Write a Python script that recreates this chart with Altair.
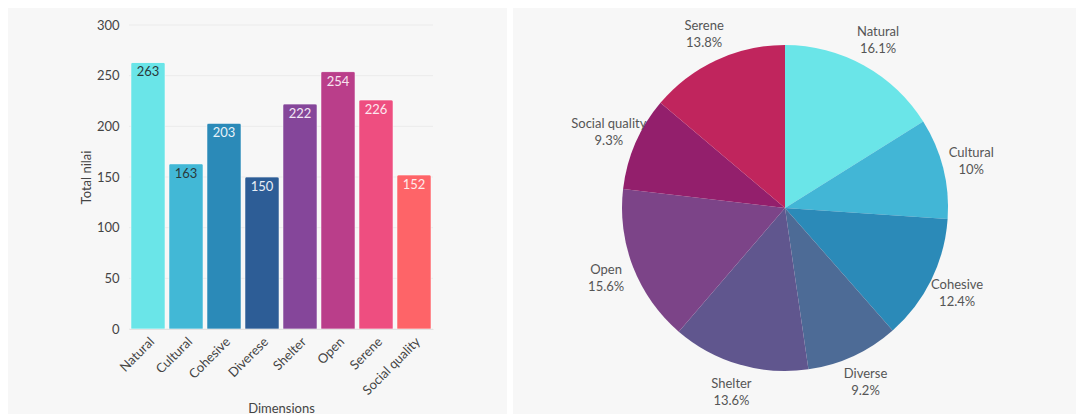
import altair as alt
import pandas as pd

# ---- data ----
categories = ["Natural", "Cultural", "Cohesive", "Diverese", "Shelter", "Open", "Serene", "Social quality"]
values = [263, 163, 203, 150, 222, 254, 226, 152]
bar_colors = ["#6ae5e8", "#42b8d6", "#2b8ab8", "#2d5d96", "#85469a", "#ba3e8a", "#ee4e80", "#fe6468"]
value_text_colors = ["#2a3a3c", "#2a3a3c", "#e8f2f8", "#e8eef6", "#f3e6f5", "#f8e4f0", "#fde8ef", "#ffeaea"]
y_ticks = [0, 50, 100, 150, 200, 250, 300]

pie_categories = ["Natural", "Cultural", "Cohesive", "Diverse", "Shelter", "Open", "Social quality", "Serene"]
pie_values = [263, 163, 203, 150, 222, 254, 152, 226]
pie_colors = ["#6ae5e8", "#42b6d6", "#2b8ab8", "#4d6b96", "#60568e", "#7c4488", "#931f6c", "#c0255d"]

FONT = "Lato"
PANEL = "#f7f7f7"

bar_df = pd.DataFrame({"Dimension": categories, "Total": values})
grid_df = pd.DataFrame({"Total": y_ticks})

total = sum(pie_values)
pie_labels = []
for c, v in zip(pie_categories, pie_values):
    p = round(v / total * 100, 1)
    pie_labels.append(f"{c}\n{p:g}%")
pie_df = pd.DataFrame({
    "Dimension": pie_categories,
    "Total": pie_values,
    "idx": list(range(len(pie_categories))),
    "label": pie_labels,
})

bg_df = pd.DataFrame({"k": [0]})

# ---- left: bar chart ----
BW, BH = 304, 304
TOP = 17
bar_bg = alt.Chart(bg_df).mark_rect(color=PANEL).encode(
    x=alt.value(-121), x2=alt.value(BW + 74), y=alt.value(-TOP), y2=alt.value(BH + 85)
)

yscale = alt.Scale(domain=[0, 300], nice=False)

grid = alt.Chart(grid_df).mark_rule(color="#ebebeb", strokeWidth=1).encode(
    y=alt.Y("Total:Q", scale=yscale)
)

xenc = alt.X("Dimension:N", sort=categories,
             scale=alt.Scale(paddingInner=0.1, paddingOuter=0.05),
             axis=alt.Axis(title="Dimensions", labelAngle=-45, ticks=False, zindex=1,
                           domainColor="#e2e2e2", labelPadding=6,
                           labelColor="#444444", labelFontSize=13, labelFont=FONT,
                           titleFont=FONT, titleFontSize=13, titleFontWeight="normal",
                           titleColor="#444444", titlePadding=5))
yenc = alt.Y("Total:Q", scale=yscale,
             axis=alt.Axis(title="Total nilai", values=y_ticks, domain=False, ticks=False,
                           grid=False, zindex=1,
                           labelPadding=10,
                           labelColor="#444444", labelFontSize=13, labelFont=FONT,
                           titleFont=FONT, titleFontSize=13, titleFontWeight="normal",
                           titleColor="#444444", titlePadding=3))

bars = alt.Chart(bar_df).mark_bar(
    cornerRadiusTopLeft=2, cornerRadiusTopRight=2,
    stroke="#ffffff", strokeOpacity=0.35, strokeWidth=1
).encode(
    x=xenc, y=yenc,
    color=alt.Color("Dimension:N", scale=alt.Scale(domain=categories, range=bar_colors), legend=None),
)

bar_text = alt.Chart(bar_df).mark_text(
    baseline="middle", dy=10, font=FONT, fontSize=13
).encode(
    x=alt.X("Dimension:N", sort=categories),
    y="Total:Q",
    text="Total:Q",
    color=alt.Color("Dimension:N", scale=alt.Scale(domain=categories, range=value_text_colors), legend=None),
)

left = alt.layer(bar_bg, grid, bars, bar_text).resolve_scale(color="independent").properties(width=BW, height=BH)

# ---- right: pie chart ----
PW, PH = 563, 389
CX, CY = 272, 183
pie_bg = alt.Chart(bg_df).mark_rect(color=PANEL).encode(
    x=alt.value(0), x2=alt.value(PW), y=alt.value(-TOP), y2=alt.value(PH)
)

arcs = alt.Chart(pie_df).mark_arc(radius=163).encode(
    theta=alt.Theta("Total:Q", stack=True),
    order=alt.Order("idx:Q"),
    color=alt.Color("Dimension:N", scale=alt.Scale(domain=pie_categories, range=pie_colors), legend=None),
    x=alt.value(CX), y=alt.value(CY),
)

pie_text = alt.Chart(pie_df).mark_text(
    radius=192, font=FONT, fontSize=13, color="#555555", lineBreak="\n",
    lineHeight=17, align="center", baseline="middle", dy=-8
).encode(
    theta=alt.Theta("Total:Q", stack=True),
    order=alt.Order("idx:Q"),
    text="label:N",
    x=alt.value(CX), y=alt.value(CY),
)

right = alt.layer(pie_bg, arcs, pie_text).properties(width=PW, height=PH)

chart = alt.hconcat(left, right, spacing=6).properties(
    padding={"left": 8, "top": 8, "right": 0, "bottom": 0},
    background="#ffffff",
).configure_view(strokeWidth=0)

chart.save("out.html", embed_options={"renderer": "svg", "actions": False})
